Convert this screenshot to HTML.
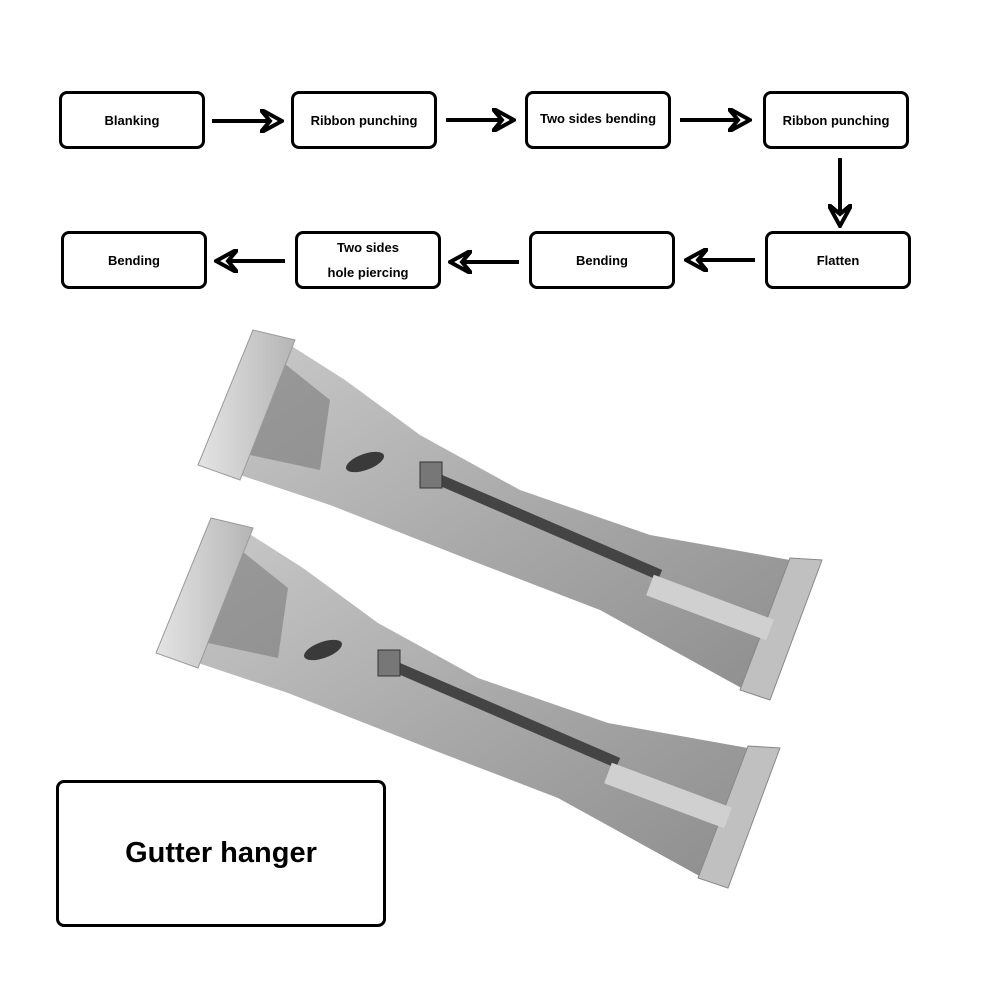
<!DOCTYPE html>
<html><head><meta charset="utf-8"><style>
body{margin:0;width:1000px;height:1000px;background:#fff;position:relative;font-family:"Liberation Sans",sans-serif;overflow:hidden}
.b{position:absolute;width:140px;height:52px;border:3px solid #000;border-radius:8px;display:flex;align-items:center;justify-content:center;text-align:center;font-weight:bold;font-size:13px;line-height:25px;box-sizing:content-box}
svg{position:absolute;left:0;top:0}
</style></head><body>
<svg width="1000" height="1000" viewBox="0 0 1000 1000">
<defs>
<linearGradient id="g" x1="0" y1="0" x2="1" y2="1"><stop offset="0" stop-color="#c8c8c8"/><stop offset=".5" stop-color="#a9a9a9"/><stop offset="1" stop-color="#8e8e8e"/></linearGradient>
<linearGradient id="p" x1="0" y1="0" x2="1" y2="0"><stop offset="0" stop-color="#e4e4e4"/><stop offset="1" stop-color="#b5b5b5"/></linearGradient>
<g id="h">
<polygon points="290,345 345,380 420,435 520,490 650,535 790,560 745,690 600,610 470,560 330,505 240,475" fill="url(#g)"/>
<polygon points="280,360 330,400 320,470 250,455" fill="#7a7a7a" opacity=".6"/>
<polygon points="253,330 295,340 240,480 198,465" fill="url(#p)" stroke="#999"/>
<polygon points="790,558 822,560 770,700 740,690" fill="#c0c0c0" stroke="#888"/>
<ellipse cx="365" cy="462" rx="8" ry="20" transform="rotate(70 365 462)" fill="#3a3a3a"/>
<line x1="440" y1="480" x2="660" y2="575" stroke="#444" stroke-width="11"/>
<rect x="420" y="462" width="22" height="26" fill="#777" stroke="#333"/>
<line x1="650" y1="585" x2="770" y2="630" stroke="#d0d0d0" stroke-width="22"/>
</g>
<marker id="a" viewBox="0 0 12 12" refX="10" refY="6" markerWidth="6" markerHeight="6" orient="auto"><path d="M0,0 L11,6 L0,12 L5,6 Z" fill="#fff" stroke="#000" stroke-width="2"/></marker>
</defs>
<use href="#h"/>
<use href="#h" transform="translate(-42,188)"/>
<g stroke="#000" stroke-width="4" marker-end="url(#a)">
<line x1="212" y1="121" x2="280" y2="121"/>
<line x1="446" y1="120" x2="512" y2="120"/>
<line x1="680" y1="120" x2="748" y2="120"/>
<line x1="840" y1="158" x2="840" y2="224"/>
<line x1="755" y1="260" x2="688" y2="260"/>
<line x1="519" y1="262" x2="452" y2="262"/>
<line x1="285" y1="261" x2="218" y2="261"/>
</g>
</svg>
<div class="b" style="left:59px;top:91px">Blanking</div>
<div class="b" style="left:291px;top:91px">Ribbon punching</div>
<div class="b" style="left:525px;top:91px"><span style="position:relative;top:-2px">Two sides bending</span></div>
<div class="b" style="left:763px;top:91px">Ribbon punching</div>
<div class="b" style="left:61px;top:231px">Bending</div>
<div class="b" style="left:295px;top:231px">Two sides<br>hole piercing</div>
<div class="b" style="left:529px;top:231px">Bending</div>
<div class="b" style="left:765px;top:231px">Flatten</div>
<div class="b" style="left:56px;top:780px;width:324px;height:141px;font-size:29px">Gutter hanger</div>
</body></html>
